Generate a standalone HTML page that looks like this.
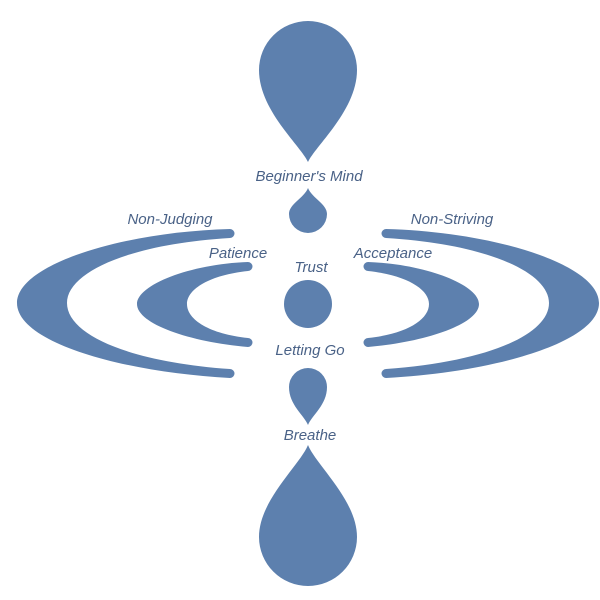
<!DOCTYPE html>
<html><head><style>body{margin:0;background:#fff}svg{display:block}text{font-family:"Liberation Sans",sans-serif;font-size:15px;fill:#4a6287;font-style:italic;text-anchor:middle}</style></head><body>
<svg width="600" height="600" viewBox="0 0 600 600">
<g fill="#5d80ae">
<path d="M308,162 C300,145 259,110 259,70 A49,49 0 0 1 357,70 C357,110 316,145 308,162Z"/>
<path d="M308,188 C304,198 289,204 289,214 A19,19 0 0 0 327,214 C327,204 312,198 308,188Z"/>
<circle cx="308" cy="304" r="24"/>
<path d="M308,425 C304,415 289,405 289,387 A19,19 0 0 1 327,387 C327,405 312,415 308,425Z"/>
<path d="M308,445 C300,465 259,500 259,537 A49,49 0 0 0 357,537 C357,500 316,465 308,445Z"/>
<g id="L">
<path d="M230,229 C120,232 17,265 17,303 C17,342 120,372 230,378 A4.5,4.5 0 0 0 230,369 C130,362 67,335 67,303 C67,272 130,244 230,238 A4.5,4.5 0 0 0 230,229Z"/>
<path d="M248,262 C190,264 137,285 137,304 C137,324 190,342 248,347 A4.5,4.5 0 0 0 248,338 C210,334 187,320 187,304 C187,289 210,275 248,271 A4.5,4.5 0 0 0 248,262Z"/>
</g>
<use href="#L" transform="translate(616,0) scale(-1,1)"/>
</g>
<text x="309" y="181">Beginner's Mind</text>
<text x="170" y="224">Non-Judging</text>
<text x="452" y="224">Non-Striving</text>
<text x="238" y="258">Patience</text>
<text x="393" y="258">Acceptance</text>
<text x="311" y="272">Trust</text>
<text x="310" y="355">Letting Go</text>
<text x="310" y="440">Breathe</text>
</svg></body></html>
